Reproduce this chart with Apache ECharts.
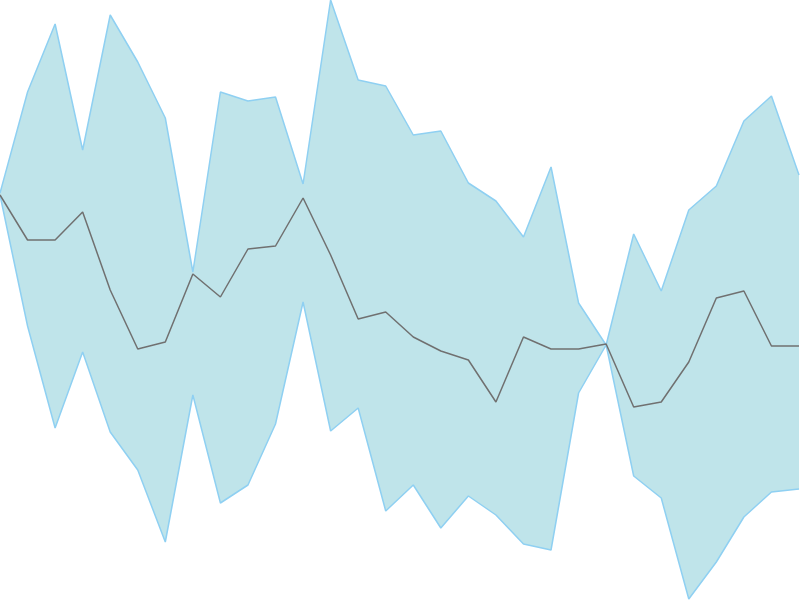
<!DOCTYPE html>
<html>
<head>
    <meta charset="utf-8">
    <title>band chart</title>
    <script src="https://cdn.jsdelivr.net/npm/echarts@6/dist/echarts.min.js"></script>
    <style>
        html, body { margin: 0; padding: 0; background: #fff; }
        #chart { width: 800px; height: 600px; }
    </style>
</head>
<body>
<div id="chart"></div>
<script>
    // x categories 0..29
    var categories = [];
    for (var i = 0; i < 30; i++) { categories.push(String(i)); }

    // values (0 at bottom, 600 at top)
    var upper = [407, 508, 576, 450, 585, 538, 482, 328, 508, 499, 503, 416, 600, 520, 514, 465,
                 469, 417, 399, 363, 433, 297, 255, 366, 309, 390, 414, 479, 504, 425];
    var middle = [405, 360, 360, 388, 310, 251, 258, 326, 303, 351, 354, 402, 345, 281, 288, 263,
                  249, 240, 198, 263, 251, 251, 256, 193, 198, 238, 302, 309, 254, 254];
    var lower = [405, 274, 172, 248, 168, 130, 58, 205, 97, 115, 176, 298, 169, 192, 89, 115,
                 72, 104, 85, 56, 50, 207, 255, 124, 102, 1, 38, 83, 108, 111];

    // band thickness for stacking
    var bandWidth = upper.map(function (v, k) { return v - lower[k]; });

    var myChart = echarts.init(document.getElementById('chart'));
    var option = {
        animation: false,
        grid: { left: 0, right: 1, top: 0, bottom: 0 },
        xAxis: {
            type: 'category',
            data: categories,
            boundaryGap: false,
            show: false
        },
        yAxis: {
            type: 'value',
            min: 0,
            max: 600,
            show: false
        },
        series: [
            {
                name: 'lower',
                type: 'line',
                stack: 'band',
                data: lower,
                symbol: 'none',
                lineStyle: { color: '#8fd0f2', width: 1.5 }
            },
            {
                name: 'band',
                type: 'line',
                stack: 'band',
                data: bandWidth,
                symbol: 'none',
                lineStyle: { color: '#8fd0f2', width: 1.5 },
                areaStyle: { color: '#bfe4ea', opacity: 1 }
            },
            {
                name: 'middle',
                type: 'line',
                data: middle,
                symbol: 'none',
                z: 5,
                lineStyle: { color: '#707070', width: 1.5 }
            }
        ]
    };
    myChart.setOption(option);
</script>
</body>
</html>
